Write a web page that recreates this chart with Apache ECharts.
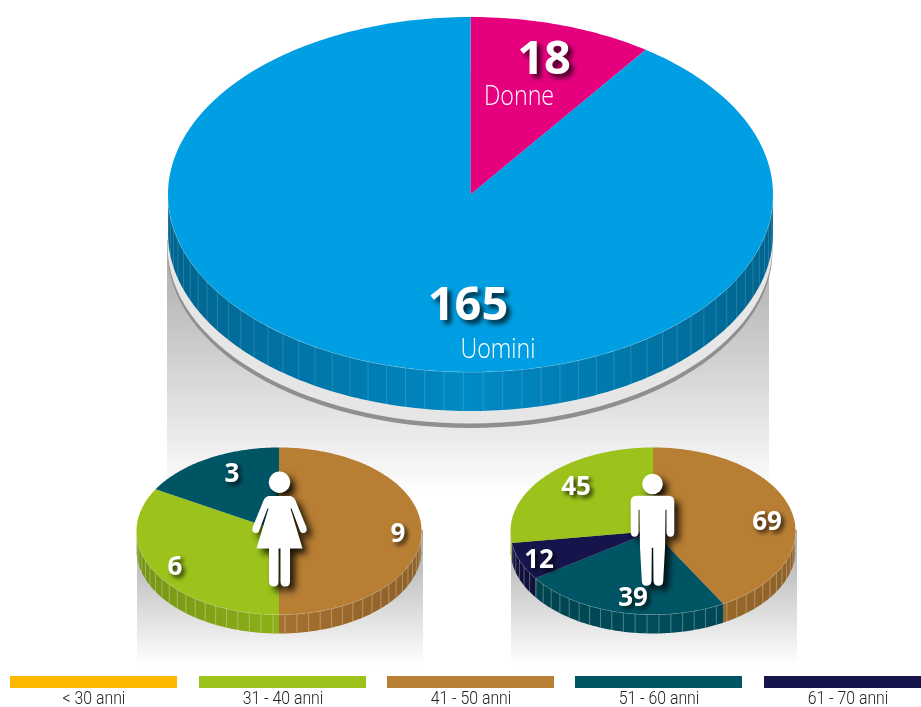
<!DOCTYPE html>
<html><head><meta charset="utf-8">
<style>html,body{margin:0;padding:0;background:#fff}#c{width:921px;height:707px}</style>
<script src="https://cdn.jsdelivr.net/npm/echarts@6/dist/echarts.min.js"></script>
</head><body><div id="c"></div>
<script>
// ---- data ----
const genderNames = ['Donne', 'Uomini'];
const genderValues = [18, 165];
const womenAgeGroups = ['41 - 50 anni', '31 - 40 anni', '51 - 60 anni'];
const womenValues = [9, 6, 3];
const menAgeGroups = ['41 - 50 anni', '51 - 60 anni', '61 - 70 anni', '31 - 40 anni'];
const menValues = [69, 39, 12, 45];
const legendLabels = ['< 30 anni', '31 - 40 anni', '41 - 50 anni', '51 - 60 anni', '61 - 70 anni'];

// ---- styles & layout ----
const ageColors = {'< 30 anni':'#FDB900','31 - 40 anni':'#9BC31B','41 - 50 anni':'#B87E33','51 - 60 anni':'#005565','61 - 70 anni':'#15154B'};
const genderColors = {Donne:'#E6007E', Uomini:'#009FE3'};
const NUM = '"Open Sans"';
const mainPie = {cx:470.5, cy:194.5, rx:302.5, ry:177.5, h:39, facet:3.7, edge:.63, mid:.87, line:.15,
  labels:{Donne:{num:[544,61],name:[519,97.5]}, Uomini:{num:[468,307],name:[498,350.5]}}, numSize:47};
const womenPie = {cx:279, cy:531, rx:142.5, ry:83.5, h:19, facet:4.8, edge:.76, mid:.9, line:.3,
  labels:{'41 - 50 anni':{num:[398,535]}, '31 - 40 anni':{num:[175,568]}, '51 - 60 anni':{num:[232,475]}}, numSize:26};
const menPie = {cx:653, cy:531, rx:142.5, ry:83.5, h:19, facet:4.8, edge:.76, mid:.9, line:.3,
  labels:{'41 - 50 anni':{num:[767,523]}, '51 - 60 anni':{num:[633,599]}, '61 - 70 anni':{num:[539,561]}, '31 - 40 anni':{num:[576,488]}}, numSize:26};
const backdrops = [
  {x:167,y:240,w:602,h:255,from:'#a8a8a8',to:'#ffffff'},
  {x:137,y:530,w:286,h:135,from:'#a8a8a8',to:'#ffffff'},
  {x:511,y:530,w:286,h:135,from:'#a8a8a8',to:'#ffffff'}
];
const legendX = [10,199,387,575,764];

function shade(hex,f){
  const n=parseInt(hex.slice(1),16);
  const c=[(n>>16)&255,(n>>8)&255,n&255].map(v=>Math.round(v*f));
  return 'rgb('+c.join(',')+')';
}
function pt(p,deg,dy){ // clockwise from top
  const a=deg*Math.PI/180;
  return [p.cx+p.rx*Math.sin(a), p.cy-p.ry*Math.cos(a)+(dy||0)];
}
function arc(p,a0,a1,dy){
  const out=[],n=Math.max(2,Math.ceil(Math.abs(a1-a0)));
  for(let i=0;i<=n;i++) out.push(pt(p,a0+(a1-a0)*i/n,dy));
  return out;
}
function pieSeries(p,names,values,colors){
  const total=values.reduce((a,b)=>a+b,0);
  const starts=[];values.reduce((s,v,i)=>(starts[i]=s,s+v),0);
  return {
    type:'custom',coordinateSystem:'none',silent:true,z:3,
    data:values.map((v,i)=>({name:names[i],value:[v]})),
    renderItem(params,api){
      const i=params.dataIndex,v=api.value(0),name=names[i],col=colors[name];
      const a0=starts[i]/total*360,a1=a0+v/total*360;
      const kids=[];
      const w0=Math.max(a0,90),w1=Math.min(a1,270);
      if(w1>w0){
        const top=arc(p,w0,w1,0),bot=arc(p,w1,w0,p.h);
        kids.push({type:'polygon',shape:{points:top.concat(bot)},style:{fill:{
          type:'linear',global:true,x:p.cx-p.rx,y:0,x2:p.cx+p.rx,y2:0,
          colorStops:[{offset:0,color:shade(col,p.edge)},{offset:.5,color:shade(col,p.mid)},{offset:1,color:shade(col,p.edge)}]}}});
        for(let d=Math.ceil(w0/p.facet)*p.facet;d<w1;d+=p.facet){
          const a=pt(p,d,0),b=pt(p,d,p.h);
          kids.push({type:'line',shape:{x1:a[0],y1:a[1],x2:b[0],y2:b[1]},style:{stroke:'rgba(255,255,255,'+p.line+')',lineWidth:1}});
        }
        kids.push({type:'polyline',shape:{points:top},style:{fill:null,stroke:'rgba(255,255,255,0.4)',lineWidth:1}});
      }
      kids.push({type:'polygon',shape:{points:[[p.cx,p.cy]].concat(arc(p,a0,a1,0))},style:{fill:col}});
      return {type:'group',children:kids};
    }
  };
}
function labelSeries(p,names,values){
  return {
    type:'custom',coordinateSystem:'none',silent:true,z:6,
    data:values.map((v,i)=>({name:names[i],value:[v]})),
    renderItem(params,api){
      const name=names[params.dataIndex],L=p.labels[name],kids=[];
      kids.push({type:'text',x:L.num[0],y:L.num[1],style:{text:String(api.value(0)),font:'700 '+p.numSize+'px '+NUM,fill:'#fff',align:'center',verticalAlign:'middle',
        textShadowColor:'rgba(0,0,0,0.75)',textShadowBlur:p.numSize>30?5:4,textShadowOffsetX:p.numSize>30?4:3,textShadowOffsetY:p.numSize>30?4:3}});
      if(L.name) kids.push({type:'text',x:L.name[0],y:L.name[1],scaleX:.86,style:{text:name,font:'300 27px "Open Sans"',fill:'#fff',align:'center',verticalAlign:'middle'}});
      return {type:'group',children:kids};
    }
  };
}
// pictograms, local coordinates
const woman='M-10 24.5L10 24.5Q14 24.5 16 29L27 56Q28 61 24 61.5Q21 62 20 58L12 37L11 37L23 77L10.5 77L10.5 110Q10.5 115 5.7 115Q1 115 1 110L1 77L-1 77L-1 110Q-1 115-5.7 115Q-10.5 115-10.5 110L-10.5 77L-23 77L-11 37L-12 37L-20 58Q-21 62-24 61.5Q-28 61-27 56L-16 29Q-14 24.5-10 24.5Z';
const man='M-16 22L16 22Q21.8 22 21.8 28L21.8 58Q21.8 63 18 63Q14 63 14 58L14 36L13 36L12.5 74L10.7 107Q10.7 112 6 112Q1.2 112 1 107L.7 74L-.7 74L-1 107Q-1.2 112-6 112Q-10.7 112-10.7 107L-12.5 74L-13 36L-14 36L-14 58Q-14 63-18 63Q-21.8 63-21.8 58L-21.8 28Q-21.8 22-16 22Z';
const icons=[{path:woman,x:279.5,y:471.5,r:10.7},{path:man,x:652.5,y:473.7,r:10.3}];

const option={
  animation:false,
  backgroundColor:'#fff',
  series:[
    {type:'custom',coordinateSystem:'none',silent:true,z:1,data:backdrops.map((b,i)=>[i]),
      renderItem(params){
        const b=backdrops[params.dataIndex];
        return {type:'rect',shape:{x:b.x,y:b.y,width:b.w,height:b.h},style:{fill:{type:'linear',x:0,y:0,x2:0,y2:1,colorStops:[{offset:0,color:b.from},{offset:1,color:b.to}]}}};
      }},
    {type:'custom',coordinateSystem:'none',silent:true,z:2,data:[[0]],
      renderItem(){
        const m=mainPie;
        return {type:'group',children:[
          {type:'ellipse',shape:{cx:m.cx-.5,cy:250.5,rx:m.rx,ry:m.ry},style:{fill:'#8f8f8f'}},
          {type:'ellipse',shape:{cx:m.cx-.5,cy:246,rx:m.rx,ry:m.ry},style:{fill:'#e6e6e6'}}
        ]};
      }},
    pieSeries(womenPie,womenAgeGroups,womenValues,ageColors),
    pieSeries(menPie,menAgeGroups,menValues,ageColors),
    pieSeries(mainPie,genderNames,genderValues,genderColors),
    labelSeries(womenPie,womenAgeGroups,womenValues),
    labelSeries(menPie,menAgeGroups,menValues),
    labelSeries(mainPie,genderNames,genderValues),
    {type:'custom',coordinateSystem:'none',silent:true,z:5,data:icons.map((b,i)=>[i]),
      renderItem(params){
        const c=icons[params.dataIndex];
        const sh={fill:'#fff',shadowColor:'rgba(0,0,0,0.85)',shadowBlur:7,shadowOffsetX:5,shadowOffsetY:5};
        return {type:'group',x:c.x,y:c.y,children:[
          {type:'circle',shape:{cx:0,cy:c.r,r:c.r},style:sh},
          {type:'path',shape:{pathData:c.path},style:sh}
        ]};
      }},
    {type:'custom',coordinateSystem:'none',silent:true,z:4,data:legendLabels.map(l=>({name:l,value:[0]})),
      renderItem(params){
        const i=params.dataIndex,l=legendLabels[i],x=legendX[i];
        return {type:'group',children:[
          {type:'rect',shape:{x:x,y:676,width:167,height:12},style:{fill:ageColors[l]}},
          {type:'text',x:x+84,y:699.5,scaleX:.88,style:{text:l,font:'300 18px Roboto',fill:'#222',align:'center',verticalAlign:'middle'}}
        ]};
      }}
  ]
};
echarts.init(document.getElementById('c'),null,{renderer:'canvas'}).setOption(option);
</script></body></html>
